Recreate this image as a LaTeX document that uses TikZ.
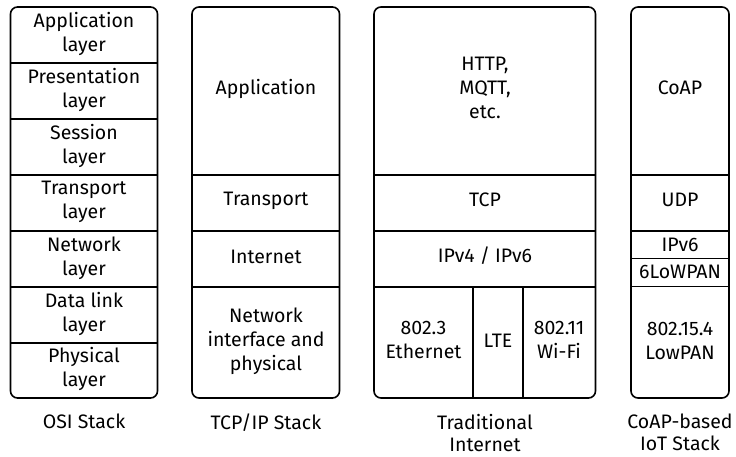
\documentclass[tikz,border=0pt]{standalone}
\usepackage{fontspec}
\setmainfont{Fira Sans}
\begin{document}
\begin{tikzpicture}[x=1pt,y=-1pt,
  box/.style={draw=black,line width=1.6pt,rounded corners=7pt},
  sep/.style={draw=black,line width=1.6pt},
  txt/.style={align=center,font=\fontsize{19.5}{24}\selectfont,inner sep=0pt},
  stacklabel/.style={align=center,font=\fontsize{19.5}{22}\selectfont,inner sep=0pt,anchor=north}]
\path[use as bounding box] (0,0) rectangle (736,456);
% OSI
\draw[box] (10.5,7) rectangle (157.5,398);
\foreach \y in {63,119,175,231,287,343}{\draw[sep] (10.5,\y) -- (157.5,\y);}
\node[txt] (o1) at (84,34) {Application\\layer};
\node[txt] (o2) at (84,90) {Presentation\\layer};
\node[txt] (o3) at (84,146) {Session\\layer};
\node[txt] (o4) at (84,202) {Transport\\layer};
\node[txt] (o5) at (84,258) {Network\\layer};
\node[txt] (o6) at (84,314) {Data link\\layer};
\node[txt] (o7) at (84,369) {Physical\\layer};
\node[stacklabel] (oc) at (84,414) {OSI Stack};
% TCP/IP
\draw[box] (192,7) rectangle (339.5,398);
\foreach \y in {175,231,287}{\draw[sep] (192,\y) -- (339.5,\y);}
\node[txt] (t1) at (266,89) {Application};
\node[txt] (t2) at (266,201) {Transport};
\node[txt] (t3) at (266,257) {Internet};
\node[txt] (t4) at (266,341) {Network\\interface and\\physical};
\node[stacklabel] (tc) at (266,414) {TCP/IP Stack};
% Traditional
\draw[box] (374,7) rectangle (595.5,398);
\foreach \y in {175,231,287}{\draw[sep] (374,\y) -- (595.5,\y);}
\draw[sep] (473,287) -- (473,398);
\draw[sep] (523,287) -- (523,398);
\node[txt] (r1) at (485,88) {HTTP,\\MQTT,\\etc.};
\node[txt] (r2) at (485,200) {TCP};
\node[txt] (r3) at (485,256) {IPv4 / IPv6};
\node[txt] (r4) at (423.5,340) {802.3\\Ethernet};
\node[txt] (r5) at (498,341) {LTE};
\node[txt] (r6) at (559,340) {802.11\\Wi-Fi};
\node[stacklabel] (rc) at (485,414) {Traditional\\Internet};
% CoAP
\draw[box] (631,7) rectangle (729,398);
\foreach \y in {175,231,258.5,286.5}{\draw[sep] (631,\y) -- (729,\y);}
\node[txt] (c1) at (680,88) {CoAP};
\node[txt] (c2) at (680,200) {UDP};
\node[txt] (c3) at (680,244.5) {IPv6};
\node[txt] (c4) at (680,272) {6LoWPAN};
\node[txt] (c5) at (680,341) {802.15.4\\LowPAN};
\node[stacklabel] (cc) at (680,414) {CoAP-based\\IoT Stack};
\end{tikzpicture}
\end{document}
